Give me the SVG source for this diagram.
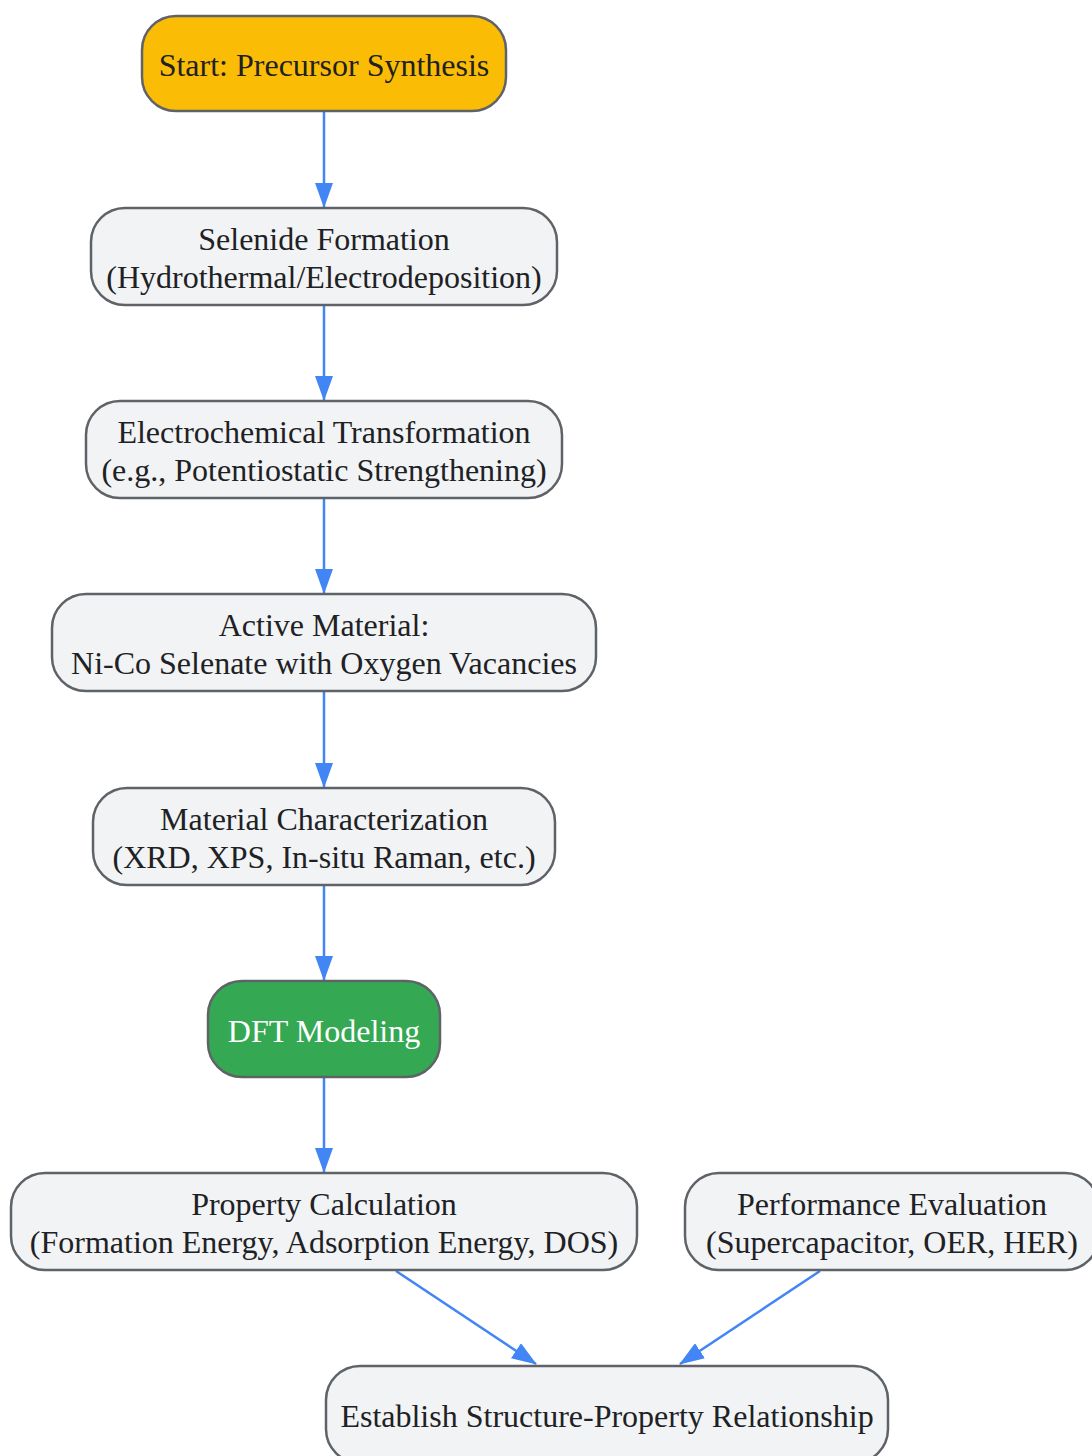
<svg xmlns="http://www.w3.org/2000/svg" width="1092" height="1456" viewBox="0 0 1092 1456">
<defs>
<marker id="arr" markerWidth="25" markerHeight="18" refX="24" refY="9" orient="auto" markerUnits="userSpaceOnUse" viewBox="0 0 25 18">
<path d="M0,0 L25,9 L0,18 Z" fill="#4285f4"/>
</marker>
<style>
.n{fill:#f1f3f4;stroke:#5f6368;stroke-width:2.5}
.t{font-family:"Liberation Serif","Times New Roman",serif;font-size:32px;fill:#202124;text-anchor:middle;dominant-baseline:central}
.e{stroke:#4285f4;stroke-width:2.5;fill:none;marker-end:url(#arr)}
</style>
</defs>
<rect width="1092" height="1456" fill="#ffffff"/>
<g id="edges">
<path class="e" d="M324,112 L324,207"/>
<path class="e" d="M324,306 L324,400"/>
<path class="e" d="M324,499 L324,593"/>
<path class="e" d="M324,692 L324,787"/>
<path class="e" d="M324,886 L324,980"/>
<path class="e" d="M324,1078 L324,1172"/>
<path class="e" d="M396,1271 L536,1364"/>
<path class="e" d="M820,1271 L680,1364"/>
</g>
<g id="start">
<rect x="142" y="16" width="364" height="95" rx="34" fill="#fbbc05" stroke="#5f6368" stroke-width="2.5"/>
<text class="t" x="324" y="65">Start: Precursor Synthesis</text>
</g>
<g id="selenide">
<rect class="n" x="91" y="208" width="466" height="97" rx="34"/>
<text class="t" x="324" y="239">Selenide Formation</text>
<text class="t" x="324" y="277">(Hydrothermal/Electrodeposition)</text>
</g>
<g id="electrochem">
<rect class="n" x="86" y="401" width="476" height="97" rx="34"/>
<text class="t" x="324" y="432">Electrochemical Transformation</text>
<text class="t" x="324" y="470">(e.g., Potentiostatic Strengthening)</text>
</g>
<g id="active">
<rect class="n" x="52" y="594" width="544" height="97" rx="34"/>
<text class="t" x="324" y="625">Active Material:</text>
<text class="t" x="324" y="663">Ni-Co Selenate with Oxygen Vacancies</text>
</g>
<g id="characterization">
<rect class="n" x="93" y="788" width="462" height="97" rx="34"/>
<text class="t" x="324" y="819">Material Characterization</text>
<text class="t" x="324" y="857">(XRD, XPS, In-situ Raman, etc.)</text>
</g>
<g id="dft">
<rect x="208" y="981" width="232" height="96" rx="34" fill="#34a853" stroke="#5f6368" stroke-width="2.5"/>
<text class="t" x="324" y="1031" style="fill:#ffffff">DFT Modeling</text>
</g>
<g id="property">
<rect class="n" x="11" y="1173" width="626" height="97" rx="34"/>
<text class="t" x="324" y="1204">Property Calculation</text>
<text class="t" x="324" y="1242">(Formation Energy, Adsorption Energy, DOS)</text>
</g>
<g id="performance">
<rect class="n" x="685" y="1173" width="414" height="97" rx="34"/>
<text class="t" x="892" y="1204">Performance Evaluation</text>
<text class="t" x="892" y="1242">(Supercapacitor, OER, HER)</text>
</g>
<g id="establish">
<rect class="n" x="326" y="1366" width="562" height="97" rx="34"/>
<text class="t" x="607" y="1416">Establish Structure-Property Relationship</text>
</g>
</svg>
